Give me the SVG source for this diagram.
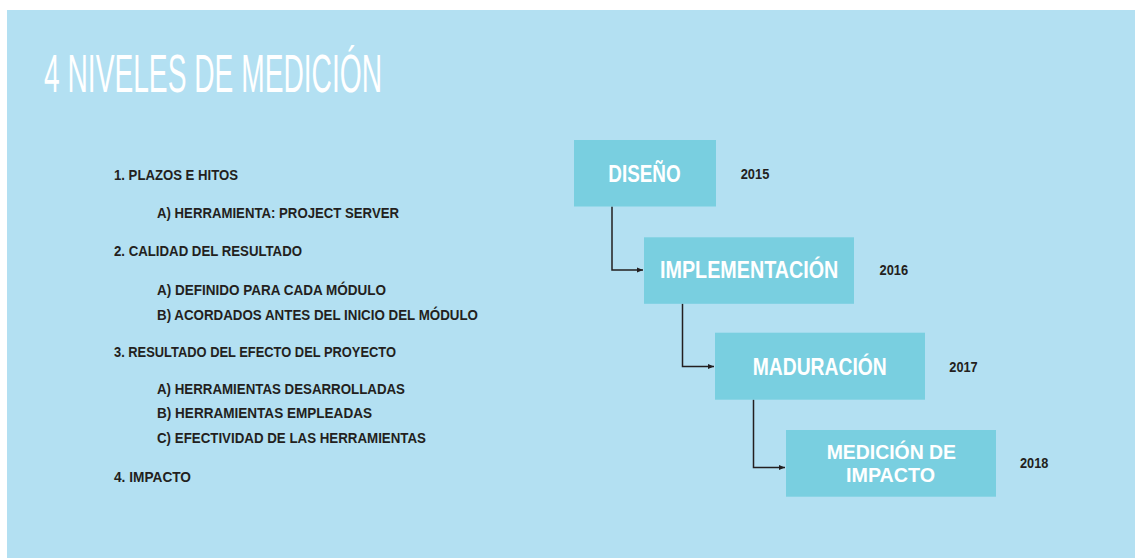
<svg xmlns="http://www.w3.org/2000/svg" width="1135" height="558" viewBox="0 0 1135 558">
<style>
.bg{fill:#b3e0f2}
.box{fill:#79cfe0}
.title{font-family:"Liberation Sans",Arial,sans-serif;font-size:53px;fill:#ffffff}
.item{font-family:"Liberation Sans",Arial,sans-serif;font-weight:bold;font-size:14.8px;fill:#231f20}
.lbl{font-family:"Liberation Sans",Arial,sans-serif;font-weight:bold;font-size:23px;fill:#ffffff}
.lbl2{font-family:"Liberation Sans",Arial,sans-serif;font-weight:bold;font-size:21px;fill:#ffffff}
.yr{font-family:"Liberation Sans",Arial,sans-serif;font-weight:bold;font-size:14px;fill:#231f20}
.conn{fill:none;stroke:#231f20;stroke-width:1.5}
</style>
<defs>
<marker id="arr" viewBox="0 0 10 10" refX="10" refY="5" markerWidth="6" markerHeight="6" orient="auto" markerUnits="userSpaceOnUse">
<path d="M0,1 L10,5 L0,9 z" fill="#231f20"/>
</marker>
</defs>
<rect x="0" y="0" width="1135" height="558" fill="#ffffff"/>
<rect class="bg" x="7" y="10" width="1128" height="548"/>
<text class="title" x="44" y="92" textLength="338" lengthAdjust="spacingAndGlyphs">4 NIVELES DE MEDICIÓN</text>
<g id="list">
<text class="item" x="114" y="180" textLength="124" lengthAdjust="spacingAndGlyphs">1. PLAZOS E HITOS</text>
<text class="item" x="157" y="217.5" textLength="242" lengthAdjust="spacingAndGlyphs">A) HERRAMIENTA: PROJECT SERVER</text>
<text class="item" x="114" y="255.7" textLength="188" lengthAdjust="spacingAndGlyphs">2. CALIDAD DEL RESULTADO</text>
<text class="item" x="157" y="295" textLength="229" lengthAdjust="spacingAndGlyphs">A) DEFINIDO PARA CADA MÓDULO</text>
<text class="item" x="157" y="319.5" textLength="321" lengthAdjust="spacingAndGlyphs">B) ACORDADOS ANTES DEL INICIO DEL MÓDULO</text>
<text class="item" x="114" y="356.7" textLength="282" lengthAdjust="spacingAndGlyphs">3. RESULTADO DEL EFECTO DEL PROYECTO</text>
<text class="item" x="157" y="394" textLength="248" lengthAdjust="spacingAndGlyphs">A) HERRAMIENTAS DESARROLLADAS</text>
<text class="item" x="157" y="418.3" textLength="215" lengthAdjust="spacingAndGlyphs">B) HERRAMIENTAS EMPLEADAS</text>
<text class="item" x="157" y="443.3" textLength="269" lengthAdjust="spacingAndGlyphs">C) EFECTIVIDAD DE LAS HERRAMIENTAS</text>
<text class="item" x="114" y="481.7" textLength="77" lengthAdjust="spacingAndGlyphs">4. IMPACTO</text>
</g>
<g id="connectors">
<path class="conn" d="M612,206.5 V270 H643" marker-end="url(#arr)"/>
<path class="conn" d="M682.5,303.5 V366.5 H714" marker-end="url(#arr)"/>
<path class="conn" d="M753.5,399.5 V467.5 H785" marker-end="url(#arr)"/>
</g>
<g id="n1">
<rect class="box" x="574" y="140" width="142" height="66.5"/>
<text class="lbl" x="608.3" y="181.7" textLength="72.4" lengthAdjust="spacingAndGlyphs">DISEÑO</text>
<text class="yr" x="740.7" y="179" textLength="28.6" lengthAdjust="spacingAndGlyphs">2015</text>
</g>
<g id="n2">
<rect class="box" x="644" y="237.3" width="210" height="66.5"/>
<text class="lbl" x="660" y="277.7" textLength="178.3" lengthAdjust="spacingAndGlyphs">IMPLEMENTACIÓN</text>
<text class="yr" x="879.5" y="275.3" textLength="28.6" lengthAdjust="spacingAndGlyphs">2016</text>
</g>
<g id="n3">
<rect class="box" x="715" y="332.7" width="210" height="67"/>
<text class="lbl" x="752.7" y="375" textLength="134" lengthAdjust="spacingAndGlyphs">MADURACIÓN</text>
<text class="yr" x="949.3" y="371.7" textLength="28.4" lengthAdjust="spacingAndGlyphs">2017</text>
</g>
<g id="n4">
<rect class="box" x="786" y="430" width="210" height="66.7"/>
<text class="lbl2" x="826.7" y="459.3" textLength="129.3" lengthAdjust="spacingAndGlyphs">MEDICIÓN DE</text>
<text class="lbl2" x="846" y="481.7" textLength="89" lengthAdjust="spacingAndGlyphs">IMPACTO</text>
<text class="yr" x="1020" y="467.7" textLength="28.4" lengthAdjust="spacingAndGlyphs">2018</text>
</g>
</svg>
